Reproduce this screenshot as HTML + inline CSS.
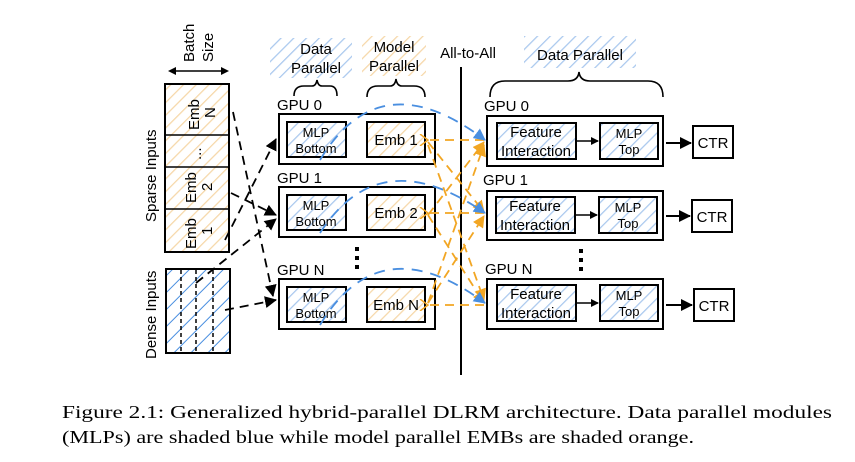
<!DOCTYPE html>
<html><head><meta charset="utf-8"><style>
html,body{margin:0;padding:0;background:#fff;}
svg{display:block;}
text{font-family:"Liberation Sans",sans-serif;fill:#000;}
.cap{font-family:"Liberation Serif",serif;font-size:18px;}
</style></head><body>
<svg width="855" height="462" viewBox="0 0 855 462" xmlns="http://www.w3.org/2000/svg">
<defs>
<pattern id="hb" width="9" height="9" patternUnits="userSpaceOnUse" patternTransform="rotate(45)">
<rect width="9" height="9" fill="#fff"/><line x1="0" y1="0" x2="0" y2="9" stroke="#a9c8ee" stroke-width="2.5"/></pattern>
<pattern id="ho" width="9" height="9" patternUnits="userSpaceOnUse" patternTransform="rotate(45)">
<rect width="9" height="9" fill="#fff"/><line x1="0" y1="0" x2="0" y2="9" stroke="#f6d7a8" stroke-width="2.5"/></pattern>
<pattern id="hd" width="12" height="12" patternUnits="userSpaceOnUse" patternTransform="rotate(45)">
<rect width="12" height="12" fill="#fff"/><line x1="0" y1="0" x2="0" y2="12" stroke="#4a8fe0" stroke-width="2"/></pattern>
<marker id="ak" markerWidth="8" markerHeight="8" refX="7" refY="4" orient="auto" markerUnits="userSpaceOnUse"><path d="M0,0 L8,4 L0,8z" fill="#000"/></marker>
<marker id="ab" markerWidth="12" markerHeight="12" refX="11" refY="6" orient="auto" markerUnits="userSpaceOnUse"><path d="M0,0 L12,6 L0,12z" fill="#000"/></marker>
<marker id="abl" markerWidth="12" markerHeight="12" refX="11" refY="6" orient="auto" markerUnits="userSpaceOnUse"><path d="M0,0 L12,6 L0,12z" fill="#4a8fe0"/></marker>
<marker id="aor" markerWidth="12" markerHeight="12" refX="11" refY="6" orient="auto" markerUnits="userSpaceOnUse"><path d="M0,0 L12,6 L0,12z" fill="#f2a623"/></marker>
<marker id="aol" markerWidth="10" markerHeight="12" refX="1" refY="6" orient="auto" markerUnits="userSpaceOnUse"><path d="M9,0 L1,6 L9,12" fill="none" stroke="#f2a623" stroke-width="1.5"/></marker>
</defs>

<rect x="270" y="38" width="82" height="40" fill="url(#hb)"/>
<rect x="362" y="36" width="64" height="40" fill="url(#ho)"/>
<rect x="524" y="36" width="112" height="32" fill="url(#hb)"/>
<text x="316" y="54" font-size="15" text-anchor="middle">Data</text>
<text x="316" y="73" font-size="15" text-anchor="middle">Parallel</text>
<text x="394" y="52" font-size="15" text-anchor="middle">Model</text>
<text x="394" y="71" font-size="15" text-anchor="middle">Parallel</text>
<text x="468" y="58" font-size="15" text-anchor="middle">All-to-All</text>
<text x="580" y="60" font-size="15" text-anchor="middle">Data Parallel</text>
<g fill="none" stroke="#000" stroke-width="1.6">
<path d="M294,96 Q294,86 304,86 L312,86 Q316,86 317,80 Q318,86 322,86 L330,86 Q337,86 337,96"/>
<path d="M367,97 Q367,86 378,86 L390,86 Q395,86 396,79 Q397,86 402,86 L414,86 Q425,86 425,97"/>
<path d="M490,97 Q490,81 505,81 L568,81 Q578,81 579,72 Q580,81 590,81 L648,81 Q663,81 663,97"/>
</g>

<text transform="translate(194,62) rotate(-90)" font-size="15">Batch</text>
<text transform="translate(213,62) rotate(-90)" font-size="15">Size</text>
<line x1="170" y1="71" x2="227" y2="71" stroke="#000" stroke-width="1.6"/>
<path d="M168,71 L176,67 L176,75z M229,71 L221,67 L221,75z" fill="#000"/>

<rect x="165" y="84" width="64" height="168" fill="url(#ho)" stroke="#000" stroke-width="2"/>
<line x1="165" y1="135" x2="229" y2="135" stroke="#000" stroke-width="1.5"/>
<line x1="165" y1="167" x2="229" y2="167" stroke="#000" stroke-width="1.5"/>
<line x1="165" y1="209" x2="229" y2="209" stroke="#000" stroke-width="1.5"/>
<text transform="translate(199,130) rotate(-90)" font-size="15">Emb</text>
<text transform="translate(215,118) rotate(-90)" font-size="15">N</text>
<text transform="translate(201,160) rotate(-90)" font-size="15">...</text>
<text transform="translate(196,203) rotate(-90)" font-size="15">Emb</text>
<text transform="translate(212,191) rotate(-90)" font-size="15">2</text>
<text transform="translate(196,249) rotate(-90)" font-size="15">Emb</text>
<text transform="translate(212,235) rotate(-90)" font-size="15">1</text>
<text transform="translate(156,222) rotate(-90)" font-size="15">Sparse Inputs</text>
<text transform="translate(156,359) rotate(-90)" font-size="15">Dense Inputs</text>

<rect x="166" y="269" width="64" height="84" fill="url(#hd)" stroke="#000" stroke-width="2"/>
<g stroke="#000" stroke-width="1.5" stroke-dasharray="4,3">
<line x1="181" y1="270" x2="181" y2="352"/><line x1="196" y1="270" x2="196" y2="352"/><line x1="213" y1="270" x2="213" y2="352"/>
</g>

<g stroke="#000" stroke-width="1.8" fill="none" stroke-dasharray="9,6">
<path d="M233,112 L273,296" marker-end="url(#ab)"/>
<path d="M231,193 L276,215" marker-end="url(#ab)"/>
<path d="M225,240 L276,139" marker-end="url(#ab)"/>
<path d="M196,283 L276,219" marker-end="url(#ab)"/>
<path d="M225,310 L276,300" marker-end="url(#ab)"/>
</g>

<g font-size="15">
<text x="277" y="110">GPU 0</text><text x="277" y="183">GPU 1</text><text x="277" y="275">GPU N</text>
</g>
<g stroke="#000" stroke-width="2">
<rect x="279" y="114" width="156" height="50" fill="#fff"/>
<rect x="279" y="187" width="156" height="50" fill="#fff"/>
<rect x="279" y="279" width="156" height="50" fill="#fff"/>
<rect x="287" y="122" width="59" height="35" fill="url(#hb)"/>
<rect x="367" y="122" width="58" height="35" fill="url(#ho)"/>
<rect x="287" y="195" width="59" height="35" fill="url(#hb)"/>
<rect x="367" y="195" width="58" height="35" fill="url(#ho)"/>
<rect x="287" y="287" width="59" height="35" fill="url(#hb)"/>
<rect x="367" y="287" width="58" height="35" fill="url(#ho)"/>
</g>
<g font-size="13" text-anchor="middle">
<text x="316" y="137">MLP</text><text x="316" y="153">Bottom</text>
<text x="316" y="210">MLP</text><text x="316" y="226">Bottom</text>
<text x="316" y="302">MLP</text><text x="316" y="318">Bottom</text>
</g>
<g font-size="15" text-anchor="middle">
<text x="396" y="145">Emb 1</text><text x="396" y="218">Emb 2</text><text x="396" y="310">Emb N</text>
</g>
<g fill="#000"><rect x="355" y="247" width="4" height="4"/><rect x="355" y="256" width="4" height="4"/><rect x="355" y="265" width="4" height="4"/></g>

<line x1="461" y1="67" x2="461" y2="375" stroke="#000" stroke-width="2"/>

<g stroke="#f2a623" stroke-width="1.8" fill="none" stroke-dasharray="9,6">
<path d="M484,140 L428,140" marker-end="url(#aol)"/>
<path d="M484,213 L428,213" marker-end="url(#aol)"/>
<path d="M484,305 L428,305" marker-end="url(#aol)"/>
<path d="M428,142 L484,212" marker-end="url(#aor)"/>
<path d="M428,215 L484,142" marker-end="url(#aor)"/>
<path d="M428,215 L484,303" marker-end="url(#aor)"/>
<path d="M428,303 L484,145" marker-end="url(#aor)"/>
<path d="M428,303 L484,216" marker-end="url(#aor)"/>
<path d="M428,145 L484,300" marker-end="url(#aor)"/>
</g>
<g stroke="#4a8fe0" stroke-width="1.8" fill="none" stroke-dasharray="11,8">
<path d="M320,160 Q380,60 485,140" marker-end="url(#abl)"/>
<path d="M320,233 Q380,140 485,213" marker-end="url(#abl)"/>
<path d="M320,325 Q380,225 485,303" marker-end="url(#abl)"/>
</g>

<g font-size="15">
<text x="484" y="111">GPU 0</text><text x="483" y="185">GPU 1</text><text x="485" y="274">GPU N</text>
</g>
<g stroke="#000" stroke-width="2">
<rect x="487" y="116" width="176" height="50" fill="#fff"/>
<rect x="487" y="191" width="176" height="49" fill="#fff"/>
<rect x="487" y="279" width="176" height="50" fill="#fff"/>
<rect x="497" y="123" width="79" height="36" fill="url(#hb)"/>
<rect x="600" y="123" width="58" height="36" fill="url(#hb)"/>
<rect x="496" y="197" width="79" height="36" fill="url(#hb)"/>
<rect x="599" y="197" width="58" height="36" fill="url(#hb)"/>
<rect x="497" y="285" width="79" height="36" fill="url(#hb)"/>
<rect x="600" y="285" width="58" height="36" fill="url(#hb)"/>
<rect x="693" y="126" width="40" height="32" fill="#fff"/>
<rect x="692" y="200" width="40" height="32" fill="#fff"/>
<rect x="694" y="289" width="40" height="32" fill="#fff"/>
</g>
<g font-size="15" text-anchor="middle">
<text x="536" y="137">Feature</text><text x="536" y="156">Interaction</text>
<text x="535" y="211">Feature</text><text x="535" y="230">Interaction</text>
<text x="536" y="299">Feature</text><text x="536" y="318">Interaction</text>
<text x="713" y="148">CTR</text><text x="712" y="222">CTR</text><text x="714" y="311">CTR</text>
</g>
<g font-size="13" text-anchor="middle">
<text x="629" y="138">MLP</text><text x="629" y="154">Top</text>
<text x="628" y="212">MLP</text><text x="628" y="228">Top</text>
<text x="629" y="300">MLP</text><text x="629" y="316">Top</text>
</g>
<g fill="#000"><rect x="579" y="249" width="4" height="4"/><rect x="579" y="258" width="4" height="4"/><rect x="579" y="267" width="4" height="4"/></g>
<g stroke="#000" stroke-width="1.5">
<line x1="577" y1="141" x2="598" y2="141" marker-end="url(#ak)"/>
<line x1="576" y1="215" x2="597" y2="215" marker-end="url(#ak)"/>
<line x1="577" y1="303" x2="598" y2="303" marker-end="url(#ak)"/>
<line x1="666" y1="143" x2="691" y2="143" stroke-width="2" marker-end="url(#ab)"/>
<line x1="666" y1="216" x2="690" y2="216" stroke-width="2" marker-end="url(#ab)"/>
<line x1="666" y1="305" x2="692" y2="305" stroke-width="2" marker-end="url(#ab)"/>
</g>

<text class="cap" x="62" y="418" textLength="770" lengthAdjust="spacingAndGlyphs">Figure 2.1: Generalized hybrid-parallel DLRM architecture. Data parallel modules</text>
<text class="cap" x="62" y="443" textLength="632" lengthAdjust="spacingAndGlyphs">(MLPs) are shaded blue while model parallel EMBs are shaded orange.</text>
</svg>
</body></html>
